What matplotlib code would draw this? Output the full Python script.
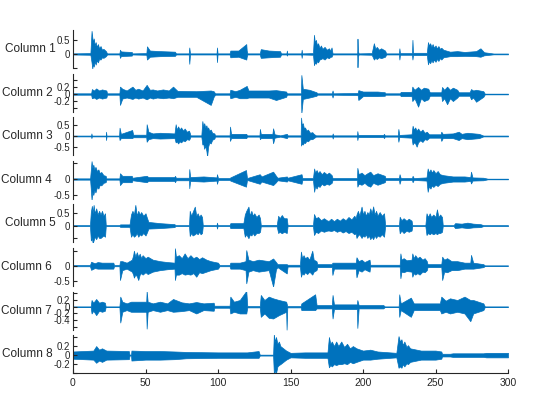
import matplotlib
matplotlib.use('Agg')
import matplotlib.pyplot as plt

# envelope breakpoints: (time, upper, lower)
col1 = [(0, .02, -.02), (12, .03, -.03), (12.8, .82, -.3), (13.3, .6, -.52), (13.8, .4, -.35), (14.3, .55, -.45),
        (15, .3, -.25), (15.6, .42, -.38), (16.5, .25, -.22), (17.2, .35, -.3), (18, .2, -.18), (19, .28, -.2),
        (20, .15, -.12), (21, .18, -.14), (22.7, .1, -.08), (23.5, .02, -.02),
        (32, .02, -.02), (32.4, .15, -.14), (33, .09, -.08), (36, .08, -.07), (40.5, .07, -.06), (41, .02, -.02),
        (50.6, .03, -.03), (51, .27, -.2), (53, .12, -.1), (60, .1, -.08), (70.3, .08, -.07), (71, .02, -.02),
        (79.8, .02, -.02), (80.2, .23, -.35), (80.7, .02, -.02),
        (99, .02, -.02), (99.3, .23, -.29), (99.7, .02, -.02),
        (108, .02, -.02), (108.5, .12, -.12), (114, .12, -.1), (119.5, .35, -.2), (119.8, .12, -.1), (120.3, .02, -.02),
        (128.8, .02, -.02), (129.5, .17, -.14), (135, .12, -.12), (142.8, .1, -.1), (143.5, .02, -.02),
        (147.2, .02, -.02), (147.5, .12, -.06), (147.8, .02, -.02),
        (157.4, .02, -.02), (157.7, .15, -.14), (158, .02, -.02),
        (165.5, .03, -.03), (166.2, .68, -.4), (166.8, .4, -.3), (167.5, .5, -.35), (168.3, .3, -.25),
        (169, .38, -.3), (170, .22, -.2), (171, .3, -.18), (172, .18, -.15), (173.5, .25, -.2), (175, .15, -.12),
        (176.5, .2, -.15), (177.5, .12, -.1), (178.3, .23, -.1), (179, .02, -.02),
        (196, .02, -.02), (196.2, .54, -.47), (196.5, .1, -.1), (197, .02, -.02),
        (206, .03, -.03), (207.5, .38, -.2), (208.5, .18, -.14), (209.5, .25, -.18), (211, .15, -.12),
        (212.5, .2, -.15), (215.2, .12, -.1), (216, .02, -.02),
        (224.8, .02, -.02), (225.1, .2, -.2), (225.5, .03, -.03),
        (233.8, .03, -.03), (234.1, .5, -.2), (234.5, .04, -.04),
        (244, .04, -.04), (244.8, .42, -.37), (245.5, .3, -.25), (246.3, .38, -.33), (247.2, .25, -.22),
        (248, .35, -.3), (249, .22, -.2), (250, .3, -.28), (251, .2, -.18), (252, .28, -.25), (253, .18, -.15),
        (254, .22, -.2), (255.4, .15, -.12), (260, .08, -.08), (265, .1, -.08), (270, .07, -.07), (278, .1, -.08),
        (281, .2, -.1), (283.5, .06, -.05), (290, .015, -.015), (300, .015, -.015)]

col2 = [(0, .02, -.02), (12.5, .02, -.02), (13, .14, -.12), (14.5, .1, -.1), (16, .16, -.14), (18, .1, -.1),
        (20, .13, -.13), (23, .1, -.1), (23.5, .02, -.02),
        (32, .02, -.02), (32.4, .21, -.31), (34, .15, -.13), (37, .1, -.1), (41, .21, -.14), (43, .12, -.1),
        (45, .15, -.13), (48, .1, -.1), (50.8, .26, -.15), (53, .12, -.1), (55, .13, -.13), (58, .1, -.1),
        (62, .13, -.12), (66, .1, -.1), (69, .21, -.12), (72, .09, -.08), (85, .08, -.08), (95, .1, -.31),
        (97, .08, -.08), (98, .02, -.02),
        (108, .02, -.02), (108.5, .12, -.12), (112, .08, -.08), (115, .12, -.12), (119.8, .23, -.12), (121, .1, -.1),
        (135, .1, -.1), (140, .11, -.17), (147, .07, -.08), (147.5, .02, -.02),
        (157.2, .02, -.02), (157.5, .54, -.55), (158.5, .15, -.14), (163, .12, -.1), (167.9, .05, -.05),
        (168.5, .02, -.02),
        (178.5, .02, -.02), (179, .1, -.1), (179.5, .02, -.02),
        (196.3, .03, -.03), (196.8, .11, -.17), (200, .07, -.06), (210, .07, -.06), (215, .05, -.05), (215.5, .02, -.02),
        (225.5, .02, -.02), (226, .06, -.06), (233.5, .06, -.06), (234, .21, -.2), (235.5, .12, -.12),
        (238, .2, -.36), (240, .12, -.12), (242, .18, -.2), (245, .15, -.15), (246, .05, -.05), (254, .05, -.05),
        (254.5, .2, -.2), (256, .12, -.12), (258, .21, -.29), (260, .12, -.12), (262, .18, -.2), (265, .12, -.1),
        (266, .05, -.05), (273.5, .05, -.05), (274.5, .14, -.15), (276, .1, -.1), (278, .12, -.22), (283, .08, -.08),
        (284, .01, -.01), (300, .01, -.01)]

col3 = [(0, .02, -.02), (12.5, .02, -.02), (12.7, .12, -.1), (13, .02, -.02), (22.6, .02, -.02), (22.8, .2, -.19),
        (23.1, .02, -.02),
        (31.8, .02, -.02), (32.1, .39, -.19), (33, .1, -.1), (40.8, .28, -.1), (41.5, .06, -.06), (50.5, .06, -.06),
        (50.8, .55, -.27), (52, .2, -.15), (55, .12, -.1), (60, .15, -.12), (70, .12, -.1),
        (70.8, .55, -.3), (71.5, .3, -.25), (72.5, .45, -.35), (73.5, .3, -.25), (74.5, .4, -.3), (76, .25, -.2),
        (77, .35, -.25), (78.5, .2, -.15), (80, .25, -.18), (80.5, .15, -.12), (81, .03, -.03),
        (88.5, .03, -.03), (89.2, .7, -.4), (89.8, .45, -.35), (90.5, .6, -.6), (91.2, .4, -.45), (92, .5, -.7),
        (92.5, .35, -.97), (93.2, .4, -.5), (94, .25, -.3), (95, .3, -.35), (96, .15, -.18), (97.5, .12, -.12),
        (98, .03, -.03),
        (108, .03, -.03), (108.3, .44, -.23), (109, .1, -.1), (119.5, .1, -.1), (120, .03, -.03),
        (128.6, .03, -.03), (128.9, .33, -.15), (129.5, .1, -.1), (137.5, .1, -.1), (138, .36, -.34), (139, .08, -.08),
        (143, .03, -.03), (147.5, .1, -.1), (148, .03, -.03),
        (157, .03, -.03), (157.3, .86, -.45), (157.8, .5, -.35), (158.5, .6, -.4), (159.3, .35, -.3), (160, .4, -.33),
        (161, .25, -.22), (162, .3, -.25), (163.5, .15, -.15), (165, .18, -.15), (166, .1, -.1), (167.5, .03, -.03),
        (178.8, .03, -.03), (179.1, .12, -.12), (179.5, .03, -.03),
        (195.9, .03, -.03), (196.1, .23, -.19), (196.5, .05, -.05), (214, .05, -.05), (214.5, .1, -.1),
        (215, .03, -.03),
        (224, .03, -.03), (224.4, .33, -.27), (225, .05, -.05), (233.5, .08, -.08), (234.2, .48, -.4),
        (235, .3, -.3), (236, .4, -.35), (237, .25, -.5), (238, .35, -.3), (239.5, .2, -.2), (241, .3, -.28),
        (242.5, .15, -.15), (244, .2, -.18), (245, .12, -.12), (245.5, .08, -.08), (253.5, .08, -.08),
        (254, .2, -.23), (255, .1, -.1), (262, .12, -.1), (266, .2, -.19), (268, .1, -.1), (272, .15, -.15),
        (280, .1, -.1), (283, .02, -.02), (300, .02, -.02)]

col4 = [(0, .02, -.02), (11.8, .02, -.02), (12.8, .56, -.66), (13.4, .35, -.4), (14, .45, -.5), (14.7, .3, -.35),
        (15.5, .38, -.42), (16.5, .25, -.25), (17.5, .3, -.3), (18.5, .18, -.18), (19.5, .22, -.2), (21, .12, -.12),
        (22.5, .1, -.1), (23, .02, -.02),
        (32, .02, -.02), (32.4, .18, -.19), (34, .1, -.1), (40.5, .1, -.1), (41, .04, -.04), (50.8, .1, -.1),
        (52, .06, -.06), (70, .06, -.06), (70.3, .1, -.1), (71, .04, -.04),
        (80, .04, -.04), (80.2, .31, -.29), (80.8, .06, -.06), (90, .08, -.08), (99, .05, -.05), (99.3, .15, -.15),
        (100, .03, -.03),
        (108, .03, -.03), (108.5, .05, -.05), (119.3, .28, -.24), (120, .03, -.03),
        (128.8, .15, -.15), (130, .08, -.08), (138, .23, -.19), (140, .1, -.1), (141, .04, -.04), (147.5, .08, -.08),
        (148, .04, -.04),
        (157.6, .15, -.15), (158.2, .03, -.03), (165.5, .03, -.03), (166.3, .33, -.4), (167, .2, -.22),
        (168, .28, -.3), (169, .18, -.2), (170, .25, -.25), (171.5, .15, -.15), (173, .22, -.2), (175, .15, -.15),
        (176.5, .2, -.18), (178.4, .12, -.12), (179, .03, -.03),
        (195.9, .03, -.03), (196.1, .35, -.24), (197, .15, -.15), (199, .2, -.18), (201, .12, -.12),
        (203, .18, -.2), (205, .23, -.24), (207, .12, -.12), (210, .18, -.18), (215, .1, -.1), (215.5, .03, -.03),
        (224.8, .03, -.03), (225.2, .15, -.15), (226, .03, -.03), (233.8, .03, -.03), (234.2, .1, -.1),
        (235, .03, -.03),
        (243.8, .05, -.05), (244.6, .33, -.4), (245.5, .2, -.22), (246.5, .3, -.3), (247.5, .2, -.2),
        (248.5, .28, -.25), (250, .18, -.18), (251.5, .25, -.22), (253, .15, -.15), (255.4, .12, -.12),
        (262, .08, -.08), (270, .08, -.08), (274, .06, -.06), (274.5, .23, -.14), (275.5, .05, -.05), (283, .04, -.04),
        (286, .01, -.01), (300, .01, -.01)]

col5 = [(0, .02, -.02), (11.7, .02, -.02), (12.3, .55, -.6), (13, .8, -.5), (13.6, .5, -.72), (14.2, .84, -.6),
        (15, .5, -.45), (16, .7, -.55), (17, .45, -.4), (18, .6, -.5), (19, .45, -.5), (20, .6, -.45), (21, .4, -.4),
        (22.1, .5, -.45), (22.6, .02, -.02),
        (32, .02, -.02), (32.5, .05, -.05), (39, .05, -.05), (40, .45, -.45), (41, .6, -.35), (42, .45, -.45),
        (43, .84, -.4), (44, .4, -.3), (45, .6, -.45), (46, .45, -.35), (47, .55, -.4), (48.5, .4, -.3),
        (50, .5, -.4), (50.8, .35, -.3), (52, .15, -.12), (60, .1, -.1), (70, .06, -.06), (70.5, .02, -.02),
        (80, .02, -.02), (80.5, .6, -.42), (81.5, .4, -.3), (82.5, .55, -.4), (84, .77, -.35), (85, .4, -.3),
        (86, .5, -.35), (87, .35, -.25), (88, .45, -.35), (89, .35, -.3), (89.5, .02, -.02),
        (99, .02, -.02), (99.3, .12, -.12), (99.7, .02, -.02),
        (108, .02, -.02), (108.5, .1, -.1), (117.5, .1, -.1), (118.5, .45, -.45), (119.5, .6, -.35),
        (121, .77, -.51), (122, .4, -.35), (123, .6, -.4), (124, .4, -.3), (125, .5, -.4), (126.5, .35, -.3),
        (128, .45, -.3), (129, .3, -.25), (129.5, .03, -.03),
        (140.5, .03, -.03), (141.5, .4, -.3), (142.5, .3, -.25), (144, .43, -.31), (145.5, .3, -.25),
        (147.4, .3, -.3), (148, .02, -.02),
        (165.5, .02, -.02), (166.2, .47, -.38), (167.5, .3, -.25), (169, .35, -.3), (171, .22, -.2),
        (173, .3, -.25), (175.5, .2, -.2), (176.5, .2, -.2), (178, .28, -.22), (180, .18, -.18), (182, .28, -.25),
        (184, .2, -.2), (186, .3, -.28), (188, .22, -.22), (190, .35, -.3), (192, .25, -.25), (194, .4, -.35),
        (195, .3, -.31),
        (195.5, .45, -.5), (196.5, .6, -.4), (197.5, .4, -.35), (199, .77, -.5), (200, .45, -.4), (201, .6, -.45),
        (202, .4, -.35), (203, .55, -.5), (204, .45, -.4), (205, .7, -.55), (206, .5, -.45), (207, .78, -.55),
        (208, .45, -.4), (209, .6, -.5), (210, .4, -.4), (211.5, .55, -.45), (213, .4, -.35), (214.5, .5, -.45),
        (215.3, .02, -.02),
        (224.8, .02, -.02), (225.3, .36, -.31), (226.5, .22, -.2), (228, .3, -.3), (230, .2, -.2), (231.5, .28, -.25),
        (233.5, .2, -.2), (234, .02, -.02),
        (243, .02, -.02), (243.8, .5, -.38), (244.8, .35, -.3), (246, .5, -.35), (247, .35, -.3), (248.5, .45, -.35),
        (250, .35, -.3), (251, .66, -.35), (252, .35, -.3), (253.2, .45, -.3), (254.5, .35, -.25), (255, .02, -.02),
        (262.5, .02, -.02), (263.5, .1, -.1), (268, .08, -.07), (272, .12, -.1), (276, .08, -.07), (281, .06, -.06),
        (283, .02, -.02), (300, .02, -.02)]

col6 = [(0, .02, -.02), (11.7, .02, -.02), (12.5, .13, -.14), (15, .08, -.08), (17, .12, -.1), (20, .1, -.1),
        (27.8, .1, -.1), (28.3, .02, -.02),
        (32, .02, -.02), (32.4, .15, -.48), (34, .15, -.15), (37, .1, -.1), (40.6, .2, -.2), (41.5, .35, -.3),
        (42, .5, -.4), (43, .3, -.3), (44, .45, -.35), (45, .3, -.48), (46, .4, -.3), (47, .25, -.25),
        (48, .35, -.3), (50, .25, -.22), (51.5, .3, -.28), (55, .2, -.2), (60, .15, -.15), (65, .12, -.12),
        (70, .1, -.1),
        (70.3, .58, -.48), (71, .3, -.3), (73, .35, -.3), (75, .25, -.25), (77, .41, -.3), (79, .25, -.28),
        (81, .35, -.3), (83, .25, -.25), (85, .3, -.37), (87, .22, -.22), (89, .28, -.25), (92, .2, -.2),
        (95, .15, -.15), (100, .1, -.1), (101, .02, -.02),
        (108, .02, -.02), (108.5, .1, -.1), (115, .1, -.1), (119, .15, -.15), (119.5, .52, -.59), (121, .2, -.2),
        (124, .15, -.15), (128, .2, -.2), (135, .15, -.15),
        (138, .24, -.7), (140, .12, -.12), (141, .05, -.05), (147.4, .05, -.26), (148, .03, -.03),
        (156.5, .03, -.03), (157.2, .47, -.37), (158, .25, -.25), (159, .35, -.3), (160, .25, -.22),
        (161.5, .3, -.28), (163, .2, -.2), (165, .5, -.3), (166, .2, -.2), (167.9, .15, -.15), (168.5, .05, -.05),
        (178.5, .05, -.05), (178.9, .1, -.31), (180, .1, -.1), (195, .1, -.1),
        (195.5, .28, -.39), (197, .15, -.15), (199, .2, -.2), (201, .12, -.12), (204.5, .2, -.2), (205, .03, -.03),
        (225.3, .03, -.03), (225.8, .41, -.42), (226.5, .2, -.2), (228, .25, -.22), (230, .18, -.18),
        (233.5, .2, -.2), (234, .41, -.37), (235, .25, -.25), (236, .35, -.3), (237.5, .25, -.25), (239, .3, -.3),
        (241, .2, -.2), (242.5, .25, -.22), (244, .15, -.15), (244.5, .05, -.05),
        (254, .05, -.05), (254.6, .3, -.48), (256, .2, -.2), (258, .25, -.22), (261, .15, -.15), (265, .15, -.15),
        (270, .1, -.1), (274, .1, -.1), (274.5, .36, -.1), (276, .1, -.1), (283, .05, -.05), (284, .01, -.01),
        (300, .01, -.01)]

col7 = [(0, .01, -.01), (12.2, .01, -.01), (12.8, .2, -.2), (14, .12, -.12), (16, .23, -.25), (18, .12, -.12),
        (20, .15, -.15), (22, .12, -.12), (22.5, .01, -.01),
        (32, .01, -.01), (32.6, .3, -.47), (34, .15, -.15), (37, .1, -.1), (40, .15, -.15), (45, .15, -.15),
        (50.5, .15, -.15), (50.8, .47, -.65), (51.5, .15, -.15), (55, .1, -.1), (60, .15, -.15), (65, .1, -.1),
        (69, .23, -.15), (75, .13, -.13), (80, .1, -.1), (85, .14, -.2), (90, .1, -.1), (97, .12, -.12),
        (97.5, .03, -.03),
        (108, .03, -.03), (108.5, .3, -.2), (111, .15, -.15), (115, .2, -.2), (119.5, .47, -.2), (120.2, .02, -.02),
        (128.8, .02, -.02), (129.5, .35, -.3), (132, .2, -.2), (135, .3, -.33), (138, .25, -.35), (142, .2, -.25),
        (147, .15, -.15), (147.3, .1, -.68), (147.8, .02, -.02),
        (157, .02, -.02), (157.5, .1, -.1), (167, .37, -.1), (168, .05, -.05), (178.5, .05, -.05), (179, .35, -.35),
        (180, .07, -.07), (195.8, .07, -.07), (196.1, .2, -.63), (197, .05, -.05), (214, .05, -.05),
        (215, .01, -.01),
        (224.6, .01, -.01), (225, .37, -.3), (226, .1, -.1), (233, .27, -.3), (235, .1, -.1), (253, .1, -.1),
        (254, .3, -.2), (257, .18, -.15), (260, .25, -.2), (265, .2, -.15), (270, .3, -.2), (274, .2, -.43),
        (276, .2, -.2), (283, .1, -.1), (284, .01, -.01), (300, .01, -.01)]

col8 = [(0, .08, -.08), (14, .1, -.1), (16, .2, -.17), (18, .12, -.12), (20, .15, -.15), (23, .1, -.1),
        (38.5, .09, -.09), (39, .01, -.01), (40, .01, -.01), (40.3, .1, -.12), (50, .09, -.1), (60, .09, -.1),
        (70, .08, -.09), (78, .07, -.07), (100, .06, -.06), (120, .06, -.06), (128, .09, -.06), (128.8, .01, -.01),
        (138, .01, -.01), (138.5, .46, -.4), (139.2, .3, -.35), (140, .4, -.4), (141, .25, -.25), (142, .3, -.22),
        (143, .2, -.2), (145, .15, -.15), (147, .1, -.1), (150, .05, -.05), (160, .06, -.06), (175.5, .06, -.06),
        (176.5, .4, -.27), (177.5, .25, -.22), (178.5, .3, -.25), (180, .2, -.2), (181.5, .3, -.22),
        (183, .2, -.2), (185, .3, -.2), (187, .18, -.18), (189, .25, -.2), (191, .15, -.15), (193, .2, -.18),
        (195.5, .15, -.15), (200, .1, -.1), (205, .12, -.1), (210, .08, -.08), (223, .05, -.05),
        (224.5, .42, -.28), (225.5, .3, -.25), (226.5, .35, -.28), (227.5, .22, -.2), (228.5, .3, -.25),
        (230, .18, -.18), (231, .22, -.2), (232.5, .15, -.15), (240, .1, -.1), (250, .1, -.1), (254, .08, -.08),
        (254.5, .03, -.03), (260, .03, -.03), (262, .04, -.04), (283, .04, -.04), (285, .05, -.05), (300, .05, -.05)]

columns = [col1, col2, col3, col4, col5, col6, col7, col8]
names = [f'Column {i}' for i in range(1, 9)]

ylims = [(-0.5, 0.85), (-0.5, 0.58), (-0.9, 0.88), (-0.62, 0.57),
         (-0.68, 0.86), (-0.68, 0.59), (-0.68, 0.45), (-0.4, 0.44)]
yticks = [[-0.5, 0, 0.5], [-0.4, -0.2, 0, 0.2, 0.4], [-0.5, 0, 0.5], [-0.5, 0, 0.5],
          [-0.5, 0, 0.5], [-0.5, 0, 0.5], [-0.6, -0.4, -0.2, 0, 0.2, 0.4], [-0.4, -0.2, 0, 0.2, 0.4]]
ylabels = [['', '0', '0.5'], ['', '-0.2', '0', '0.2', ''], ['-0.5', '0', '0.5'], ['-0.5', '0', ''],
           ['', '0', '0.5'], ['-0.5', '0', ''], ['', '-0.4', '-0.2', '0', '0.2', ''], ['', '-0.2', '0', '0.2', '']]

blue = '#0072BD'
dark = '#262626'
plt.rcParams['font.family'] = ['Liberation Sans', 'DejaVu Sans']

fig = plt.figure(figsize=(5.6, 4.2), dpi=100)
W, H = 560, 420
left, right = 73, 508
for i, env in enumerate(columns):
    top = 30 + i * 43.6
    ax = fig.add_axes([left / W, 1 - (top + 38) / H, (right - left) / W, 38 / H])
    t = [p[0] for p in env]
    hi = [p[1] for p in env]
    lo = [p[2] for p in env]
    ax.fill_between(t, lo, hi, color=blue, linewidth=0.5, edgecolor=blue)
    ax.set_xlim(0, 300)
    ax.set_ylim(*ylims[i])
    ax.set_yticks(yticks[i], ylabels[i])
    for s in ['top', 'right']:
        ax.spines[s].set_visible(False)
    ax.spines['left'].set_color(dark)
    ax.tick_params(axis='y', direction='in', length=3, labelsize=7, colors=dark, pad=2)
    ax.set_ylabel(names[i], rotation=0, ha='right', va='center', fontsize=8.5, color=dark, labelpad=1)
    if i < 7:
        ax.spines['bottom'].set_visible(False)
        ax.set_xticks([])
    else:
        ax.spines['bottom'].set_color(dark)
        ax.set_xticks([0, 50, 100, 150, 200, 250, 300])
        ax.tick_params(axis='x', direction='in', length=3, labelsize=7.5, colors=dark)

fig.savefig('out.png', dpi=100)
